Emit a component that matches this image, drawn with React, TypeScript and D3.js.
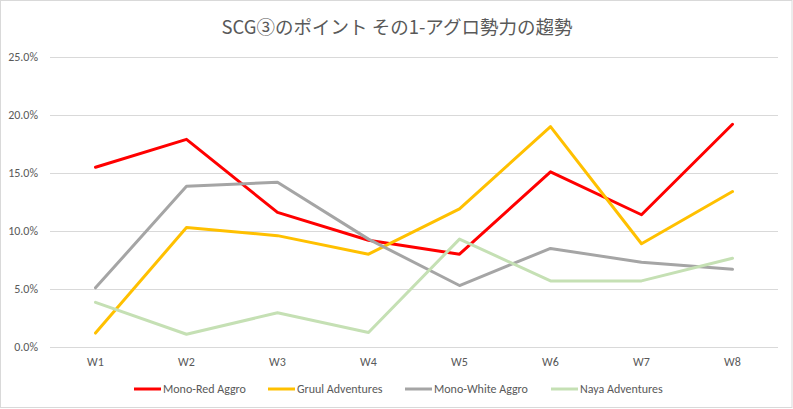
import React from "react";
import * as d3 from "d3";

const weeks = ["W1", "W2", "W3", "W4", "W5", "W6", "W7", "W8"];
const seriesNames = ["Mono-Red Aggro", "Gruul Adventures", "Mono-White Aggro", "Naya Adventures"];
const monoRed = [15.5, 17.9, 11.6, 9.2, 8.0, 15.1, 11.4, 19.2];
const gruul = [1.2, 10.3, 9.6, 8.0, 11.9, 19.0, 8.9, 13.4];
const monoWhite = [5.1, 13.85, 14.2, 9.3, 5.3, 8.5, 7.3, 6.7];
const naya = [3.85, 1.1, 2.95, 1.25, 9.3, 5.7, 5.7, 7.65];
const yTicks = [0, 5, 10, 15, 20, 25];
const colors = ["#FF0000", "#FFC000", "#A5A5A5", "#C5E0B4"];
const title = "SCG③のポイント その1-アグロ勢力の趨勢";

export default function App() {
  const W = 793, H = 409;
  const left = 50, right = 778, top = 57, bottom = 347;
  const x = d3.scaleBand<string>().domain(weeks).range([left, right]);
  const y = d3.scaleLinear().domain([0, 25]).range([bottom, top]);
  const data = [monoRed, gruul, monoWhite, naya];
  const line = d3.line<number>()
    .x((_, i) => (x(weeks[i]) as number) + x.bandwidth() / 2)
    .y((d) => y(d));
  const font = "Calibri, Carlito, 'Liberation Sans', Arial, sans-serif";
  const legendX = [134, 268, 405, 551];
  return (
    <svg width={W} height={H} style={{ position: "absolute", left: 0, top: 0 }} fontFamily={font}>
      <rect x={0.5} y={0.5} width={W - 1.5} height={H - 2} fill="#fff" stroke="#D9D9D9" />
      <text x={397} y={34} textAnchor="middle" fontSize={18.5} fill="#595959"
        fontFamily="'Noto Sans CJK JP', sans-serif">{title}</text>
      {yTicks.map((t) => (
        <g key={t}>
          <line x1={left} x2={right} y1={y(t) + 0.5} y2={y(t) + 0.5} stroke="#D9D9D9" strokeWidth={1} />
          <text x={38} y={y(t)} dy="0.35em" textAnchor="end" fontSize={12} fill="#595959">{t.toFixed(1) + "%"}</text>
        </g>
      ))}
      {weeks.map((w) => (
        <text key={w} x={(x(w) as number) + x.bandwidth() / 2} y={362} dy="0.35em" textAnchor="middle" fontSize={12} fill="#595959">{w}</text>
      ))}
      {data.map((d, i) => (
        <path key={i} d={line(d) || ""} fill="none" stroke={colors[i]} strokeWidth={3} strokeLinejoin="round" strokeLinecap="round" />
      ))}
      {seriesNames.map((n, i) => (
        <g key={n}>
          <line x1={legendX[i]} x2={legendX[i] + 27} y1={389} y2={389} stroke={colors[i]} strokeWidth={3} />
          <text x={legendX[i] + 29} y={389} dy="0.35em" fontSize={12} fill="#595959">{n}</text>
        </g>
      ))}
    </svg>
  );
}
